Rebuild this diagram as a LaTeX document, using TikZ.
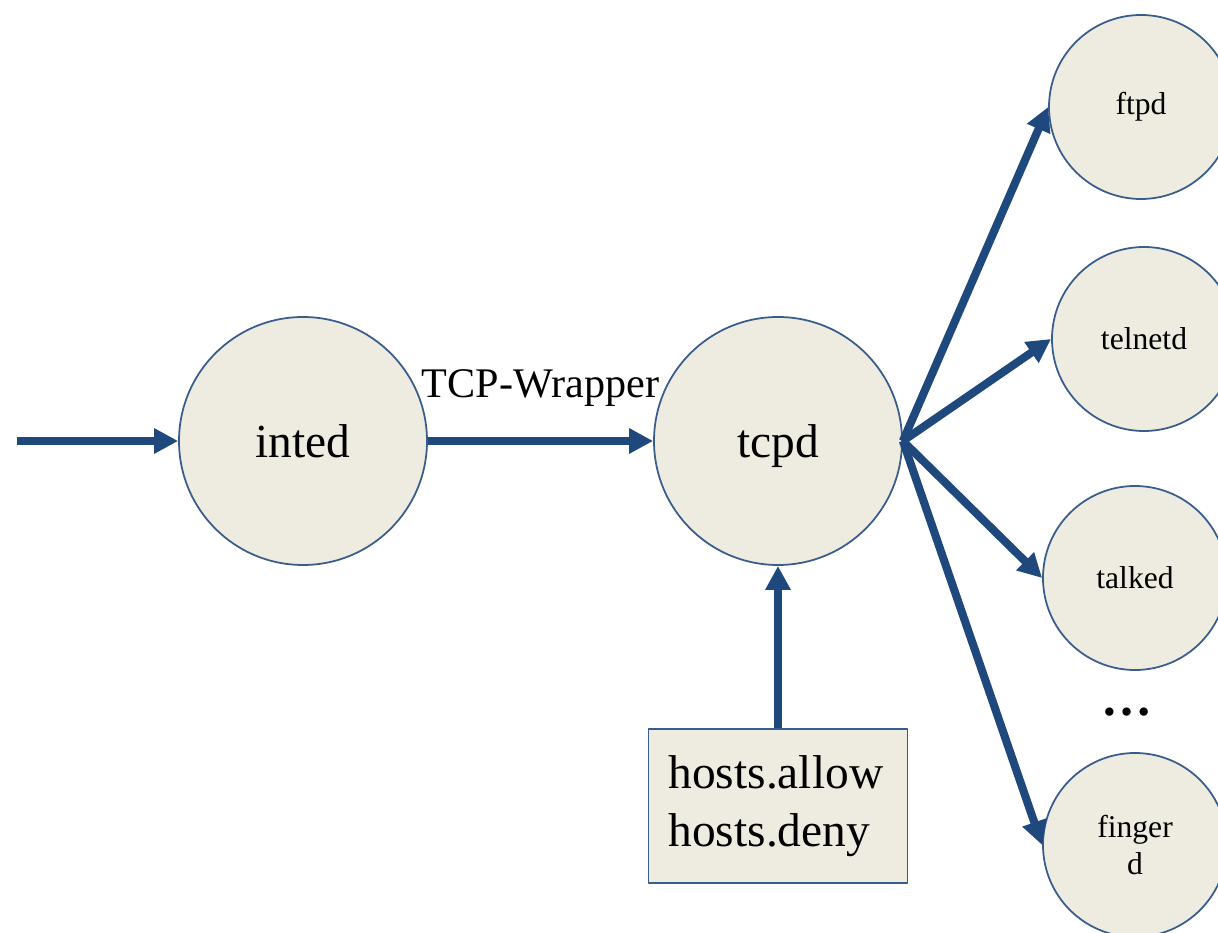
\documentclass[tikz,border=0pt]{standalone}
\usepackage{fontspec}
\setmainfont{Liberation Serif}
\usetikzlibrary{arrows.meta}
\definecolor{flowblue}{RGB}{31,73,125}
\definecolor{rimblue}{RGB}{56,93,138}
\definecolor{tanfill}{RGB}{238,236,225}

\begin{document}
\begin{tikzpicture}[line cap=round,line join=round,>={Triangle[length=6.8pt,width=6.8pt]},x=1.0cm,y=1.0cm,
	bigproc/.style={circle,draw=rimblue,fill=tanfill,line width=0.5pt,minimum size=2.48cm,inner sep=0pt,text height=0.44cm,text depth=0.1cm,font=\fontsize{13.5}{16.5}\selectfont},
	smallproc/.style={circle,draw=rimblue,fill=tanfill,line width=0.5pt,minimum size=1.84cm,inner sep=0pt,align=center,font=\fontsize{9}{10.8}\selectfont},
	filebox/.style={rectangle,draw=rimblue,fill=tanfill,line width=0.5pt,text width=2.19cm,inner sep=0.2cm,minimum height=1.54cm,align=left,font=\fontsize{13.5}{16.5}\selectfont},
	flow/.style={->,draw=flowblue,line width=2.3pt,line cap=butt}]
			\clip(0.,0.) rectangle (12.18,9.32);
			% daemons
			\node[bigproc] (inted) at (3.03,4.91) {inted};
			\node[bigproc] (tcpd) at (7.78,4.91) {tcpd};
			\node[smallproc] (ftpd) at (11.41,8.25) {ftpd};
			\node[smallproc] (telnetd) at (11.44,5.93) {telnetd};
			\node[smallproc] (talked) at (11.35,3.54) {talked};
			\node[smallproc] (fingerd) at (11.35,0.87) {finger\\d};
			\node (more) at (11.27,2.20) {\fontsize{14.5}{17}\selectfont\textbf{…}};
			\node[filebox] (hosts) at (7.78,1.26) {hosts.allow\\hosts.deny};
			\coordinate (request) at (0.17,4.91);
			% connections
			\draw[flow] (request) -- (inted.west);
			\draw[flow] (inted.east) -- node[above=0.3cm,inner sep=0pt,font=\fontsize{12}{14}\selectfont] {TCP-Wrapper} (tcpd.west);
			\draw[flow] (hosts.north) -- (tcpd.south);
			\draw[flow] (tcpd.east) -- (ftpd.west);
			\draw[flow] (tcpd.east) -- (telnetd.west);
			\draw[flow] (tcpd.east) -- (talked.west);
			\draw[flow] (tcpd.east) -- (fingerd.west);
		\end{tikzpicture}
\end{document}
